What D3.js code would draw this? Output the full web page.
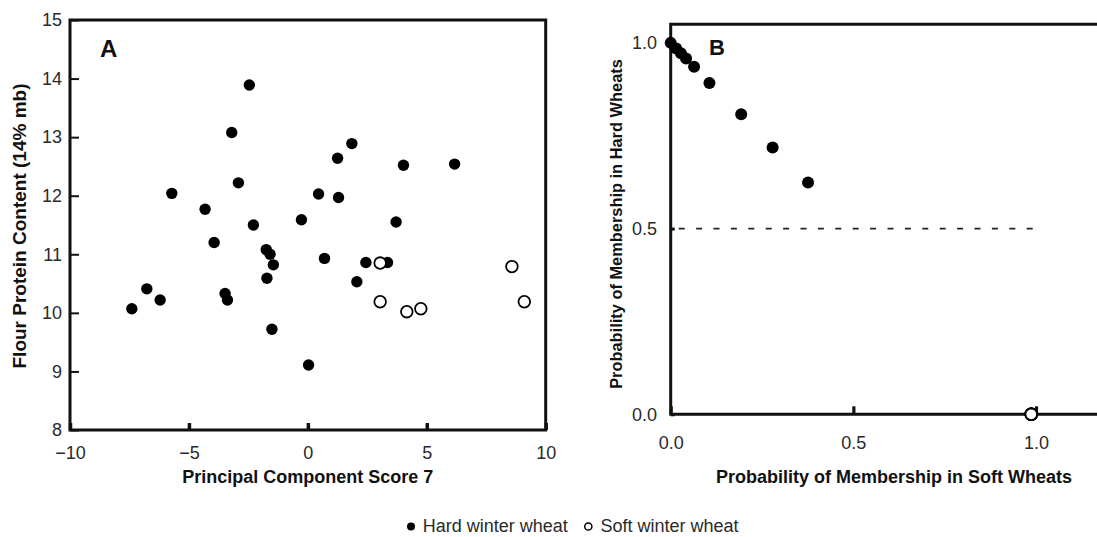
<!DOCTYPE html>
<html>
<head>
<meta charset="utf-8">
<script src="https://cdn.jsdelivr.net/npm/d3@7/dist/d3.min.js"></script>
<style>
  html, body { margin: 0; padding: 0; background: #fff; }
  svg { display: block; font-family: "Liberation Sans", Arial, Helvetica, sans-serif; }
</style>
</head>
<body>
<svg id="chart" width="1097" height="537"></svg>
<script>
// ---------- Data ----------
// Panel A: hard winter wheats
const hardPC      = [-7.40, -6.77, -6.21, -5.72, -4.32, -3.94, -3.48, -3.38, -3.20, -2.92, -2.46, -2.29, -1.75, -1.59, -1.45, -1.72, -1.51, -0.27, 0.03, 0.45, 0.70, 1.25, 1.29, 1.85, 2.06, 2.44, 3.35, 3.71, 4.02, 6.17];
const hardProtein = [10.07, 10.41, 10.22, 12.04, 11.77, 11.20, 10.33, 10.22, 13.08, 12.22, 13.89, 11.50, 11.08, 11.00, 10.82, 10.59, 9.72, 11.59, 9.11, 12.03, 10.93, 12.64, 11.97, 12.89, 10.53, 10.86, 10.86, 11.55, 12.52, 12.54];
// Panel A: soft winter wheats
const softPC      = [3.04, 3.04, 4.16, 4.75, 8.58, 9.10];
const softProtein = [10.85, 10.19, 10.02, 10.07, 10.79, 10.19];

// Panel B: membership probabilities
const hardProbSoft = [0.000, 0.015, 0.028, 0.042, 0.064, 0.106, 0.193, 0.279, 0.376];
const hardProbHard = [1.000, 0.985, 0.972, 0.958, 0.936, 0.892, 0.808, 0.718, 0.624];
const softProbSoft = [0.987, 0.987, 0.987, 0.987, 0.987, 0.987];
const softProbHard = [0.000, 0.000, 0.000, 0.000, 0.000, 0.000];

const xTicksA = [-10, -5, 0, 5, 10];
const yTicksA = [8, 9, 10, 11, 12, 13, 14, 15];
const ticksB  = [0, 0.5, 1.0];
const cutoff  = 0.5;

const legendLabels = ["Hard winter wheat", "Soft winter wheat"];

// ---------- Drawing ----------
const svg = d3.select("#chart");
const ink = "#111";
const tickInk = "#2a2a2a";

// ---- Panel A ----
const xA = d3.scaleLinear().domain([-10, 10]).range([70, 545.7]);
const yA = d3.scaleLinear().domain([8, 15]).range([430, 20]);

const gA = svg.append("g");

// y axis A
const yAxA = gA.append("g").attr("transform", `translate(${xA(-10)},0)`)
  .call(d3.axisLeft(yA).tickValues(yTicksA).tickFormat(d3.format("d"))
        .tickSizeInner(-9).tickSizeOuter(0).tickPadding(8));
yAxA.select(".domain").remove();
yAxA.selectAll("line").attr("stroke", ink).attr("stroke-width", 2);
yAxA.selectAll("text").attr("fill", tickInk).style("font-size", "18px");

// x axis A
const xAxA = gA.append("g").attr("transform", `translate(0,${yA(8)})`)
  .call(d3.axisBottom(xA).tickValues(xTicksA).tickFormat(d3.format("d"))
        .tickSizeInner(-7).tickSizeOuter(0).tickPadding(16.5));
xAxA.select(".domain").remove();
xAxA.selectAll("line").attr("stroke", ink).attr("stroke-width", 3.5);
xAxA.selectAll("text").attr("fill", tickInk).style("font-size", "18px");

// frame A
gA.append("rect")
  .attr("x", xA(-10)).attr("y", yA(15))
  .attr("width", xA(10) - xA(-10)).attr("height", yA(8) - yA(15))
  .attr("fill", "none").attr("stroke", ink).attr("stroke-width", 3);

// points A
gA.selectAll("circle.hard").data(d3.range(hardPC.length)).join("circle")
  .attr("class", "hard")
  .attr("cx", i => xA(hardPC[i])).attr("cy", i => yA(hardProtein[i]))
  .attr("r", 5.7).attr("fill", "#000");
gA.selectAll("circle.soft").data(d3.range(softPC.length)).join("circle")
  .attr("class", "soft")
  .attr("cx", i => xA(softPC[i])).attr("cy", i => yA(softProtein[i]))
  .attr("r", 5.8).attr("fill", "#fff").attr("stroke", "#000").attr("stroke-width", 1.8);

// labels A
gA.append("text").attr("x", 100).attr("y", 57)
  .style("font-size", "24px").style("font-weight", "bold").attr("fill", ink).text("A");
gA.append("text").attr("x", (xA(-10) + xA(10)) / 2).attr("y", 483)
  .attr("text-anchor", "middle").style("font-size", "18px").style("font-weight", "bold")
  .attr("fill", ink).text("Principal Component Score 7");
gA.append("text").attr("transform", "translate(26,226) rotate(-90)")
  .attr("text-anchor", "middle").style("font-size", "19px").style("font-weight", "bold")
  .attr("fill", ink).text("Flour Protein Content (14% mb)");

// ---- Panel B ----
const xB = d3.scaleLinear().domain([0, 1.167]).range([670.7, 1097]);
const yB = d3.scaleLinear().domain([0, 1.05]).range([414.3, 24.3]);

const gB = svg.append("g");

// cutoff dashed line
gB.append("line")
  .attr("x1", xB(0)).attr("x2", xB(1.0)).attr("y1", yB(cutoff)).attr("y2", yB(cutoff))
  .attr("stroke", "#222").attr("stroke-width", 1.8).attr("stroke-dasharray", "6,11.4")
  .attr("stroke-dashoffset", -8);

// y axis B
const yAxB = gB.append("g").attr("transform", `translate(${xB(0)},0)`)
  .call(d3.axisLeft(yB).tickValues(ticksB).tickFormat(d3.format(".1f"))
        .tickSizeInner(-4).tickSizeOuter(0).tickPadding(13.7));
yAxB.select(".domain").remove();
yAxB.selectAll("line").attr("stroke", ink).attr("stroke-width", 3);
yAxB.selectAll("text").attr("fill", tickInk).style("font-size", "18px");

// x axis B
const xAxB = gB.append("g").attr("transform", `translate(0,${yB(0)})`)
  .call(d3.axisBottom(xB).tickValues(ticksB).tickFormat(d3.format(".1f"))
        .tickSizeInner(-8).tickSizeOuter(0).tickPadding(22));
xAxB.select(".domain").remove();
xAxB.selectAll("line").attr("stroke", ink).attr("stroke-width", 3.2);
xAxB.selectAll("text").attr("fill", tickInk).style("font-size", "18px");

// frame B (left, top, bottom; open to the right)
gB.append("path")
  .attr("d", `M${xB(1.167)},${yB(1.05)} L${xB(0)},${yB(1.05)} L${xB(0)},${yB(0)} L${xB(1.167)},${yB(0)}`)
  .attr("fill", "none").attr("stroke", ink).attr("stroke-width", 3);

// points B
gB.selectAll("circle.soft").data(d3.range(softProbSoft.length)).join("circle")
  .attr("class", "soft")
  .attr("cx", i => xB(softProbSoft[i])).attr("cy", i => yB(softProbHard[i]))
  .attr("r", 5.8).attr("fill", "#fff").attr("stroke", "#000").attr("stroke-width", 1.8);
gB.selectAll("circle.hard").data(d3.range(hardProbSoft.length)).join("circle")
  .attr("class", "hard")
  .attr("cx", i => xB(hardProbSoft[i])).attr("cy", i => yB(hardProbHard[i]))
  .attr("r", 6).attr("fill", "#000");

// labels B
gB.append("text").attr("x", 709).attr("y", 55)
  .style("font-size", "22px").style("font-weight", "bold").attr("fill", ink).text("B");
gB.append("text").attr("x", 894).attr("y", 483)
  .attr("text-anchor", "middle").style("font-size", "18px").style("font-weight", "bold")
  .attr("fill", ink).text("Probability of Membership in Soft Wheats");
gB.append("text").attr("transform", "translate(622,224) rotate(-90)")
  .attr("text-anchor", "middle").style("font-size", "16.4px").style("font-weight", "bold")
  .attr("fill", ink).text("Probability of Membership in Hard Wheats");

// ---- Legend ----
const gL = svg.append("g");
gL.append("circle").attr("cx", 411).attr("cy", 526.5).attr("r", 4).attr("fill", "#000");
gL.append("text").attr("x", 422.7).attr("y", 532.2).style("font-size", "18px")
  .attr("fill", tickInk).text(legendLabels[0]);
gL.append("circle").attr("cx", 588.3).attr("cy", 526.5).attr("r", 3.6)
  .attr("fill", "#fff").attr("stroke", "#000").attr("stroke-width", 1.5);
gL.append("text").attr("x", 600.5).attr("y", 532.2).style("font-size", "18px")
  .attr("fill", tickInk).text(legendLabels[1]);
</script>
</body>
</html>
